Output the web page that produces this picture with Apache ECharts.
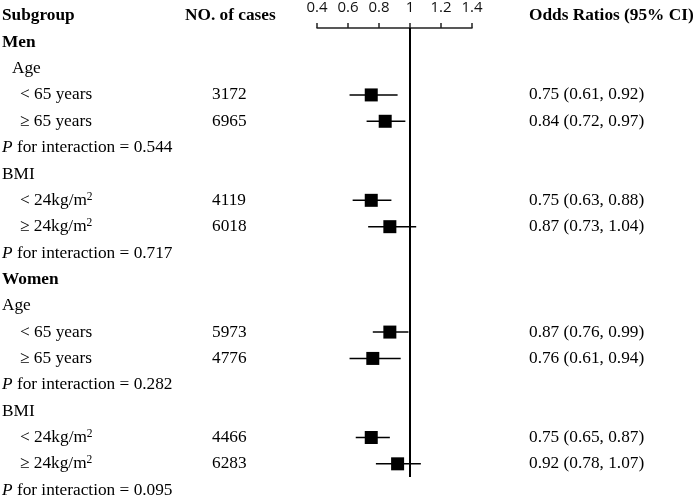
<!DOCTYPE html>
<html><head><meta charset="utf-8">
<script src="https://cdn.jsdelivr.net/npm/echarts@6/dist/echarts.min.js"></script>
<style>html,body{margin:0;padding:0;background:#fff}#c{width:697px;height:497px}</style>
</head><body><div id="c"></div>
<script>
// ---- data ----
const headers = ['Subgroup', 'NO. of cases', 'Odds Ratios (95% CI)'];
const rowLabels = ['Men', 'Age', '< 65 years', '≥ 65 years', 'P for interaction = 0.544',
  'BMI', '< 24kg/m2', '≥ 24kg/m2', 'P for interaction = 0.717',
  'Women', 'Age', '< 65 years', '≥ 65 years', 'P for interaction = 0.282',
  'BMI', '< 24kg/m2', '≥ 24kg/m2', 'P for interaction = 0.095'];
const rowKinds = ['group', 'subIndent', 'level', 'level', 'p',
  'sub', 'level', 'level', 'p',
  'group', 'sub', 'level', 'level', 'p',
  'sub', 'level', 'level', 'p'];
const cases = [null, null, 3172, 6965, null, null, 4119, 6018, null,
  null, null, 5973, 4776, null, null, 4466, 6283, null];
const oddsRatio = [null, null, 0.75, 0.84, null, null, 0.75, 0.87, null,
  null, null, 0.87, 0.76, null, null, 0.75, 0.92, null];
const ciLower = [null, null, 0.61, 0.72, null, null, 0.63, 0.73, null,
  null, null, 0.76, 0.61, null, null, 0.65, 0.78, null];
const ciUpper = [null, null, 0.92, 0.97, null, null, 0.88, 1.04, null,
  null, null, 0.99, 0.94, null, null, 0.87, 1.07, null];
const xMin = 0.4, xMax = 1.4, xInterval = 0.2;
const refValue = 1;

// ---- chart ----
const chart = echarts.init(document.getElementById('c'));
const forestData = [];
rowLabels.forEach((l, i) => {
  if (oddsRatio[i] != null) forestData.push([oddsRatio[i], i + 1, ciLower[i], ciUpper[i]]);
});
const SERIF = '"Liberation Serif", "Times New Roman", serif';
const FS = 17.3;

chart.setOption({
  animation: false,
  grid: { left: 317, width: 155, top: 28, bottom: 20 },
  xAxis: {
    type: 'value', position: 'top', min: xMin, max: xMax, interval: xInterval,
    splitLine: { show: false },
    axisLine: { lineStyle: { color: '#222', width: 1.5 } },
    axisTick: { show: true, length: 5, lineStyle: { color: '#222', width: 1.5 } },
    axisLabel: { margin: 13, fontFamily: '"Open Sans", sans-serif', fontSize: 15, color: '#111' }
  },
  yAxis: { type: 'value', inverse: true, min: 0.46, max: 17.5, show: false },
  series: [
    {
      type: 'line', data: [], silent: true,
      markLine: {
        silent: true, symbol: ['none', 'none'], label: { show: false },
        lineStyle: { color: '#000', width: 2, type: 'solid' },
        data: [{ xAxis: refValue }]
      }
    },
    {
      type: 'custom', data: forestData, clip: false,
      encode: { x: 0, y: 1 },
      renderItem: (params, api) => {
        const y = api.value(1);
        const c = api.coord([api.value(0), y]);
        const lo = api.coord([api.value(2), y]);
        const hi = api.coord([api.value(3), y]);
        const s = 13;
        return {
          type: 'group', children: [
            { type: 'line', shape: { x1: lo[0], y1: lo[1], x2: hi[0], y2: hi[1] }, style: { stroke: '#000', lineWidth: 1.5 } },
            { type: 'rect', shape: { x: c[0] - s / 2, y: c[1] - s / 2, width: s, height: s }, style: { fill: '#000' } }
          ]
        };
      }
    }
  ]
});

// ---- text columns ----
const ypx = v => chart.convertToPixel({ yAxisIndex: 0 }, v);
const baseRich = {
  n: { fontFamily: SERIF, fontSize: FS, fill: '#000', color: '#000' },
  b: { fontFamily: SERIF, fontSize: FS, fontWeight: 'bold', fill: '#000', color: '#000' },
  i: { fontFamily: SERIF, fontSize: FS, fontStyle: 'italic', fill: '#000', color: '#000' },
  sup: { fontFamily: SERIF, fontSize: 11.5, fill: '#000', color: '#000', verticalAlign: 'top' }
};
function txt(x, y, text) {
  return {
    type: 'text', x: x, y: y, silent: true,
    style: {
      text: text, rich: baseRich, fontFamily: SERIF, fontSize: FS, fill: '#000',
      align: 'left', verticalAlign: 'middle', lineHeight: 19
    }
  };
}
function fmtLabel(label, kind) {
  if (kind === 'group') return '{b|' + label + '}';
  if (kind === 'p') return '{i|P}{n|' + label.slice(1) + '}';
  const m = label.indexOf('m2');
  if (m >= 0) return '{n|' + label.slice(0, m + 1) + '}{sup|2}';
  return '{n|' + label + '}';
}
const indentX = { group: 2, subIndent: 12, sub: 2, level: 20, p: 2 };
const g = [];
const y0 = ypx(0);
g.push(txt(2, y0, '{b|' + headers[0] + '}'));
g.push(txt(185, y0, '{b|' + headers[1] + '}'));
g.push(txt(529, y0, '{b|' + headers[2] + '}'));
rowLabels.forEach((label, i) => {
  const y = ypx(i + 1);
  g.push(txt(indentX[rowKinds[i]], y, fmtLabel(label, rowKinds[i])));
  if (cases[i] != null) g.push(txt(212, y, '{n|' + cases[i] + '}'));
  if (oddsRatio[i] != null) {
    g.push(txt(529, y, '{n|' + oddsRatio[i].toFixed(2) + ' (' + ciLower[i].toFixed(2) + ', ' + ciUpper[i].toFixed(2) + ')}'));
  }
});
chart.setOption({ graphic: g });
</script>
</body></html>
